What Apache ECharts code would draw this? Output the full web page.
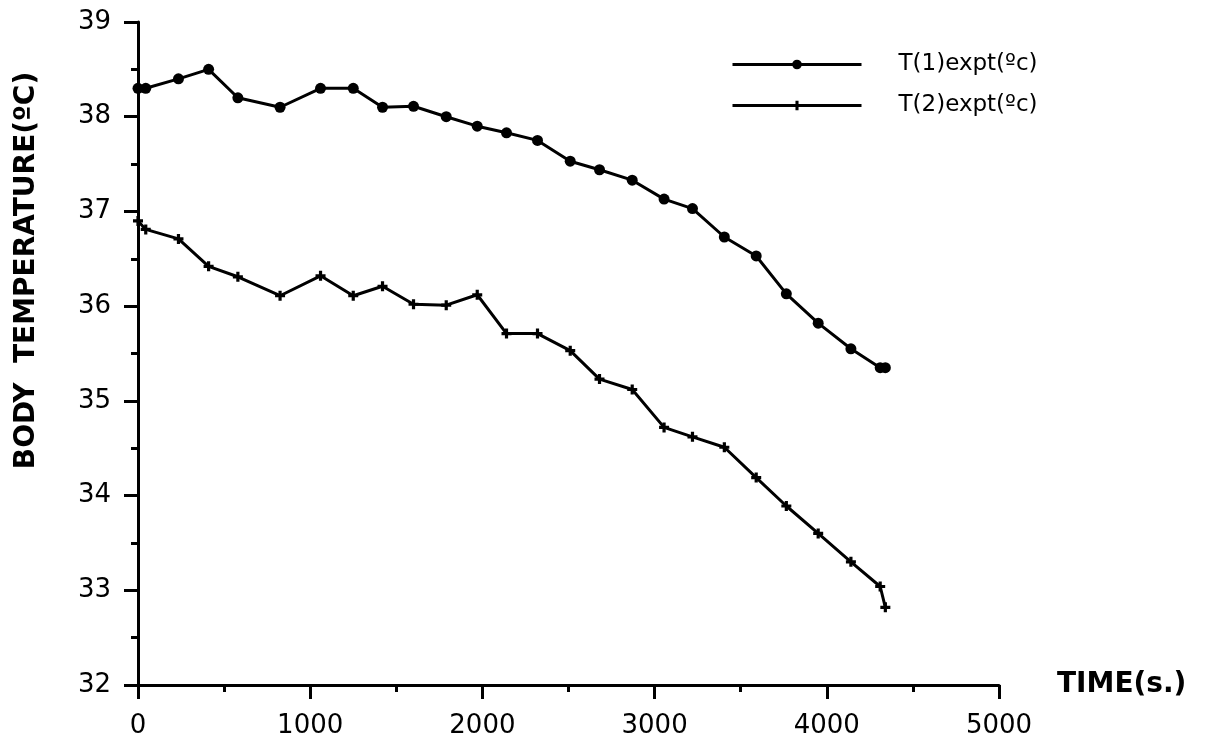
<!DOCTYPE html>
<html>
<head>
<meta charset="utf-8">
<script src="https://cdn.jsdelivr.net/npm/echarts@6/dist/echarts.min.js"></script>
<style>
  html, body { margin: 0; padding: 0; background: #fff; }
  #chart { width: 1206px; height: 742px; }
</style>
</head>
<body>
<div id="chart"></div>
<script>
// Sampling times (s) shared by both probes
const timeSec = [0, 45, 235, 410, 580, 825, 1060, 1250, 1420, 1600, 1790, 1970, 2140,
                 2320, 2510, 2680, 2870, 3055, 3220, 3405, 3590, 3765, 3950, 4140, 4310, 4340];
// Measured body temperatures (ºC)
const t1Expt = [38.30, 38.30, 38.40, 38.50, 38.20, 38.10, 38.30, 38.30, 38.10, 38.11, 38.00, 37.90, 37.83,
                37.75, 37.53, 37.44, 37.33, 37.13, 37.03, 36.73, 36.53, 36.13, 35.82, 35.55, 35.35, 35.35];
const t2Expt = [36.90, 36.81, 36.71, 36.42, 36.31, 36.11, 36.32, 36.11, 36.21, 36.02, 36.01, 36.12, 35.71,
                35.71, 35.53, 35.23, 35.12, 34.72, 34.62, 34.51, 34.19, 33.89, 33.60, 33.30, 33.04, 32.82];
const seriesNames = ['T(1)expt(ºc)', 'T(2)expt(ºc)'];
// Axis tick values
const timeTicks = [0, 1000, 2000, 3000, 4000, 5000];
const tempTicks = [32, 33, 34, 35, 36, 37, 38, 39];

const FONT = 'DejaVu Sans';
const PLUS = 'path://M3.4,0H6.6V3.4H10V6.6H6.6V10H3.4V6.6H0V3.4H3.4Z';

const pairs = (xs, ys) => xs.map((x, i) => [x, ys[i]]);

const chart = echarts.init(document.getElementById('chart'), null, { renderer: 'canvas' });

const axisCommon = {
  axisLine: { show: true, lineStyle: { color: '#000', width: 3 } },
  axisTick: { show: true, length: 14, lineStyle: { color: '#000', width: 3 } },
  minorTick: { show: true, splitNumber: 2, length: 7, lineStyle: { color: '#000', width: 3 } },
  splitLine: { show: false },
  minorSplitLine: { show: false }
};

chart.setOption({
  animation: false,
  backgroundColor: '#fff',
  grid: { left: 138, right: 207, top: 22, bottom: 57, containLabel: false },
  legend: {
    orient: 'vertical',
    left: 726,
    top: 48,
    itemWidth: 129,
    itemHeight: 12,
    itemGap: 18,
    data: seriesNames,
    lineStyle: { width: 3 },
    textStyle: { fontFamily: FONT, fontSize: 23, color: '#000', padding: [0, 0, 0, 32] }
  },
  xAxis: {
    type: 'value',
    min: timeTicks[0],
    max: timeTicks[timeTicks.length - 1],
    interval: timeTicks[1] - timeTicks[0],
    name: 'TIME(s.)',
    nameLocation: 'end',
    nameGap: 58,
    nameTextStyle: { fontFamily: FONT, fontSize: 28, fontWeight: 'bold', color: '#000', verticalAlign: 'middle' },
    axisLabel: { fontFamily: FONT, fontSize: 26, color: '#000', margin: 28, formatter: v => String(v) },
    ...axisCommon
  },
  yAxis: {
    type: 'value',
    min: tempTicks[0],
    max: tempTicks[tempTicks.length - 1],
    interval: tempTicks[1] - tempTicks[0],
    name: 'BODY  TEMPERATURE(ºC)',
    nameLocation: 'middle',
    nameRotate: 90,
    nameGap: 97,
    nameTextStyle: { fontFamily: FONT, fontSize: 28, fontWeight: 'bold', color: '#000', padding: [0, 0, 0, 166] },
    axisLabel: { fontFamily: FONT, fontSize: 26, color: '#000', margin: 27, formatter: v => String(v) },
    ...axisCommon
  },
  series: [
    {
      name: seriesNames[0],
      type: 'line',
      data: pairs(timeSec, t1Expt),
      symbol: 'circle',
      symbolSize: 11,
      showAllSymbol: true,
      lineStyle: { color: '#000', width: 3 },
      itemStyle: { color: '#000' }
    },
    {
      name: seriesNames[1],
      type: 'line',
      data: pairs(timeSec, t2Expt),
      symbol: PLUS,
      symbolSize: 10,
      showAllSymbol: true,
      lineStyle: { color: '#000', width: 3 },
      itemStyle: { color: '#000' }
    }
  ]
});
</script>
</body>
</html>
